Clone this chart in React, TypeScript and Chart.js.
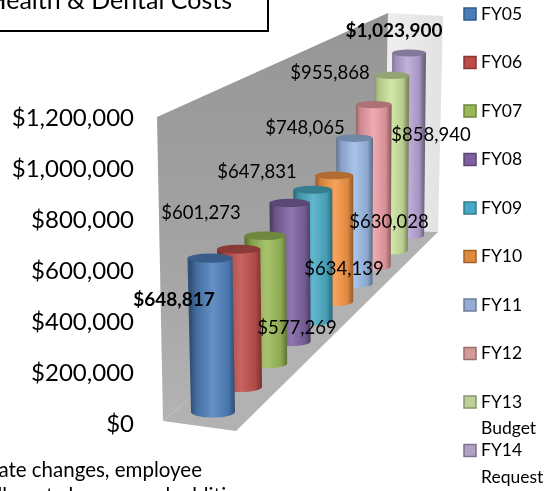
import React, { useEffect, useRef } from "react";
import { Chart, registerables } from "chart.js";

Chart.register(...registerables);

const categories = ["FY05", "FY06", "FY07", "FY08", "FY09", "FY10", "FY11", "FY12", "FY13 Budget", "FY14 Request"];
const costs = [648817, 601273, 577269, 647831, 634139, 630028, 748065, 858940, 955868, 1023900];
const yTicks = [0, 200000, 400000, 600000, 800000, 1000000, 1200000];
const title = "Health & Dental Costs";
const noteLine1 = "rate changes, employee";
const noteLine2 = "enrollment changes and additions";

const colors = ["#4F81BD", "#C0504D", "#9BBB59", "#8064A2", "#4BACC6", "#F79646", "#9DBBE6", "#EE9FA6", "#CDE49E", "#B8A6D6"];
const swatches = ["#4A7EBB", "#BE4B48", "#98B954", "#7D60A0", "#46AAC4", "#E08A3C", "#95ACD4", "#D49A98", "#BDD097", "#AFA0C4"];
const boldLabels = [0, 9];
const labelCenters: [number, number][] = [
  [174, 300], [201, 213], [297, 328], [257, 172], [344, 269],
  [389, 222], [305, 128], [431, 135], [330, 73], [394, 31],
];

const FONT = "Lato, 'Open Sans', sans-serif";
const VX = 992, VY = -296, DEPTH = 0.037;
const BASE_X = 213, BASE_Y = 412, RADIUS = 22, HEIGHT_K = 0.93, LEAN = 0.000144, LEAN_X = 350;

function shade(hex: string, f: number) {
  const n = parseInt(hex.slice(1), 16);
  const c = (v: number) => Math.max(0, Math.min(255, Math.round(f <= 1 ? v * f : v + (255 - v) * (f - 1))));
  return `rgb(${c((n >> 16) & 255)},${c((n >> 8) & 255)},${c(n & 255)})`;
}

function cylinder(ctx: CanvasRenderingContext2D, i: number, pxHeight: number, color: string) {
  const s = 1 / (1 + DEPTH * i);
  const cx = VX + (BASE_X - VX) * s;
  const by = VY + (BASE_Y - VY) * s;
  const h = pxHeight * HEIGHT_K * s;
  const r = RADIUS * s;
  const ry = 5.5 * s;
  const tx = cx + (cx - LEAN_X) * LEAN * h;
  const ty = by - h;
  const rt = r * (1 + LEAN * h);
  const ryt = 4.6 * s;

  const g = ctx.createLinearGradient(cx - r, 0, cx + r, 0);
  g.addColorStop(0, shade(color, 0.62));
  g.addColorStop(0.12, shade(color, 0.85));
  g.addColorStop(0.5, shade(color, 1.12));
  g.addColorStop(0.85, shade(color, 0.9));
  g.addColorStop(1, shade(color, 0.6));
  ctx.beginPath();
  ctx.moveTo(tx - rt, ty);
  ctx.lineTo(cx - r, by);
  ctx.ellipse(cx, by, r, ry, 0, Math.PI, 0, true);
  ctx.lineTo(tx + rt, ty);
  ctx.closePath();
  ctx.fillStyle = g;
  ctx.fill();

  ctx.beginPath();
  ctx.ellipse(tx, ty, rt, ryt, 0, 0, Math.PI * 2);
  ctx.fillStyle = shade(color, 0.72);
  ctx.fill();
}

function poly(ctx: CanvasRenderingContext2D, pts: number[][], fill: string | CanvasGradient) {
  ctx.beginPath();
  pts.forEach((p, i) => (i ? ctx.lineTo(p[0], p[1]) : ctx.moveTo(p[0], p[1])));
  ctx.closePath();
  ctx.fillStyle = fill;
  ctx.fill();
}

const scene = {
  id: "scene",
  beforeDatasetsDraw(chart: any) {
    const ctx: CanvasRenderingContext2D = chart.ctx;
    ctx.save();
    const wall = ctx.createLinearGradient(0, 20, 0, 425);
    wall.addColorStop(0, "#969696");
    wall.addColorStop(0.6, "#a4a4a4");
    wall.addColorStop(1, "#b4b4b4");
    poly(ctx, [[157, 117], [388, 13], [385, 230], [163, 421]], wall);
    const side = ctx.createLinearGradient(388, 0, 443, 0);
    side.addColorStop(0, "#eeeeee");
    side.addColorStop(1, "#e2e2e2");
    poly(ctx, [[388, 13], [443, 16], [438, 232], [385, 230]], side);
    poly(ctx, [[163, 421], [385, 230], [438, 232], [236, 431]], "#b2b2b2");

    for (let i = chart.data.datasets.length - 1; i >= 0; i--) {
      const el = chart.getDatasetMeta(i).data[0];
      cylinder(ctx, i, el.base - el.y, colors[i]);
    }
    ctx.restore();
  },
  afterDatasetsDraw(chart: any) {
    const ctx: CanvasRenderingContext2D = chart.ctx;
    ctx.save();
    ctx.fillStyle = "#000";
    ctx.textBaseline = "middle";
    ctx.textAlign = "center";
    costs.forEach((v, i) => {
      ctx.font = boldLabels.includes(i) ? `bold 19px ${FONT}` : `18.5px ${FONT}`;
      ctx.fillText("$" + v.toLocaleString("en-US"), labelCenters[i][0], labelCenters[i][1]);
    });

    // legend
    ctx.textAlign = "left";
    ctx.font = `17.5px ${FONT}`;
    chart.data.datasets.forEach((d: any, i: number) => {
      const y = 14 + i * 48.5;
      ctx.fillStyle = swatches[i];
      ctx.fillRect(464, y - 6, 12, 12);
      ctx.strokeStyle = shade(swatches[i], 0.72);
      ctx.lineWidth = 1.5;
      ctx.strokeRect(464, y - 6, 12, 12);
      ctx.fillStyle = "#000";
      String(d.label).split(" ").forEach((part, k) => ctx.fillText(part, 481, y + k * 26.5));
    });

    // title box and note
    ctx.strokeStyle = "#000";
    ctx.lineWidth = 2;
    ctx.strokeRect(-10, -10, 278, 41);
    ctx.fillStyle = "#000";
    ctx.textAlign = "right";
    ctx.textBaseline = "alphabetic";
    ctx.font = `25px ${FONT}`;
    ctx.fillText(title, 232, 9);
    ctx.font = `20.5px ${FONT}`;
    ctx.fillText(noteLine1, 202, 477);
    ctx.fillText(noteLine2, 258, 503);
    ctx.restore();
  },
};

export default function App() {
  const ref = useRef<HTMLCanvasElement>(null);
  useEffect(() => {
    const chart = new Chart(ref.current!, {
      type: "bar",
      data: {
        labels: ["Costs"],
        datasets: categories.map((c, i) => ({
          label: c,
          data: [costs[i]],
          backgroundColor: "rgba(0,0,0,0)",
          borderWidth: 0,
        })),
      },
      options: {
        animation: false,
        responsive: false,
        layout: { padding: { top: 118, bottom: 67, left: 0, right: 120 } },
        plugins: { legend: { display: false }, title: { display: false }, tooltip: { enabled: false } },
        scales: {
          x: { display: false },
          y: {
            min: 0,
            max: 1200000,
            afterBuildTicks: (s: any) => { s.ticks = yTicks.map((value) => ({ value })); },
            afterFit: (s: any) => { s.width = 140; },
            grid: { display: false, drawTicks: false, tickLength: 0 },
            border: { display: false },
            ticks: {
              padding: 6,
              color: "#000",
              font: { family: FONT, size: 24 },
              callback: (v: any) => "$" + Number(v).toLocaleString("en-US"),
            },
          },
        },
      },
      plugins: [scene],
    } as any);
    return () => chart.destroy();
  }, []);
  return (
    <div style={{ position: "absolute", left: 0, top: 0, width: 554, height: 491, overflow: "hidden" }}>
      <canvas ref={ref} width={554} height={491} style={{ display: "block" }} />
    </div>
  );
}
